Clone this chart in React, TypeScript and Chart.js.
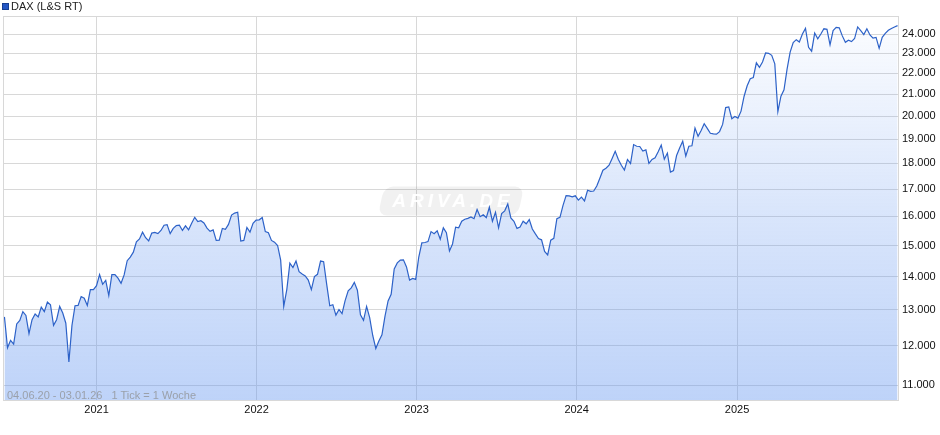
import React, { useEffect, useRef } from 'react';
import { Chart, registerables } from 'chart.js';

Chart.register(...registerables);

// ---- data -----------------------------------------------------------
const seriesName = 'DAX (L&S RT)';
const rangeText = '04.06.20 - 03.01.26   1 Tick = 1 Woche';
const startDate = '2020-06-04';
const endDate = '2026-01-03';
const firstPointDate = '2020-06-05';
const yearLabels = ['2021', '2022', '2023', '2024', '2025'];
const yTickValues = [11000, 12000, 13000, 14000, 15000, 16000, 17000, 18000, 19000, 20000, 21000, 22000, 23000, 24000];
const yMin = 10640;
const yMax = 24980;

// weekly values
const w2020 = [12800, 11950, 12150, 12050, 12600, 12700, 12950, 12840, 12330, 12720, 12880, 12800, 13080, 12950, 13230, 13150, 12560, 12720, 13100, 12910, 12620, 11580, 12560, 13120, 13130, 13390, 13340, 13130, 13600, 13600, 13720];
const w2021 = [14060, 13760, 13880, 13420, 14060, 14060, 13950, 13790, 14050, 14500, 14620, 14780, 15120, 15220, 15450, 15260, 15150, 15420, 15440, 15400, 15510, 15690, 15710, 15400, 15580, 15680, 15690, 15510, 15670, 15530, 15760, 15970, 15820, 15850, 15770, 15590, 15480, 15530, 15170, 15180, 15580, 15550, 15720, 16050, 16120, 16150, 15150, 15170, 15610, 15450, 15760, 15870];
const w2022 = [15880, 15960, 15470, 15430, 15170, 15110, 15000, 14520, 13100, 13600, 14420, 14280, 14490, 14150, 14080, 14020, 13890, 13600, 14000, 14070, 14490, 14470, 13760, 13120, 13150, 12850, 13010, 12890, 13270, 13560, 13650, 13820, 13580, 12860, 12700, 13100, 12780, 12280, 11930, 12130, 12300, 12820, 13260, 13460, 14240, 14430, 14520, 14530, 14300, 13890, 13940, 13910];
const w2023 = [14620, 15090, 15100, 15130, 15470, 15400, 15500, 15210, 15600, 15430, 14820, 15050, 15620, 15600, 15830, 15900, 15930, 15980, 15920, 16250, 15990, 16060, 15960, 16330, 15830, 16150, 15600, 16100, 16200, 16450, 15950, 15830, 15580, 15630, 15830, 15740, 15890, 15560, 15390, 15230, 15190, 14800, 14690, 15180, 15240, 15920, 15970, 16400, 16760, 16750, 16710, 16750];
const w2024 = [16590, 16700, 16560, 16960, 16920, 16930, 17120, 17420, 17730, 17810, 17930, 18200, 18490, 18170, 17930, 17740, 18160, 18000, 18770, 18700, 18690, 18500, 18550, 18000, 18160, 18230, 18470, 18750, 18170, 18420, 17660, 17720, 18320, 18630, 18910, 18300, 18700, 18720, 19470, 19120, 19370, 19660, 19460, 19250, 19220, 19210, 19320, 19630, 20380, 20410, 19880, 19980];
const w2025 = [19910, 20220, 20900, 21390, 21730, 21790, 22510, 22290, 22550, 23010, 22990, 22890, 22460, 20200, 20900, 21200, 22200, 23050, 23550, 23700, 23580, 24000, 24300, 23300, 23100, 24050, 23750, 24000, 24280, 24250, 23430, 24180, 24360, 24330, 23900, 23560, 23670, 23600, 23760, 24380, 24180, 23970, 24280, 23950, 23780, 23820, 23250, 23820, 24030, 24200, 24300, 24380];
const w2026 = [24450];

// ---------------------------------------------------------------------
const DAY = 86400000;
const dayOf = (iso: string) => (Date.parse(iso) - Date.parse(startDate)) / DAY;

const FONT = '"Liberation Sans", Arial, sans-serif';

export default function App() {
  const ref = useRef<HTMLCanvasElement | null>(null);

  useEffect(() => {
    document.body.style.margin = '0';
    const canvas = ref.current;
    if (!canvas) return;

    const weekly = [...w2020, ...w2021, ...w2022, ...w2023, ...w2024, ...w2025, ...w2026];
    const first = dayOf(firstPointDate);
    const points = weekly.map((v, i) => ({ x: first + 7 * i, y: v }));
    const yearDays = yearLabels.map((y) => dayOf(`${y}-01-01`));

    const framePlugin = {
      id: 'frameAndMark',
      beforeDatasetsDraw(chart: any) {
        const { ctx, chartArea } = chart;
        const { left, right, top, bottom } = chartArea;
        ctx.save();
        // watermark
        const cx = (left + right) / 2;
        const cy = top + (bottom - top) * 0.482;
        const w = 140;
        const h = 29;
        ctx.translate(cx, cy);
        ctx.transform(1, 0, -0.22, 1, 0, 0);
        ctx.fillStyle = 'rgba(0,0,0,0.055)';
        ctx.beginPath();
        (ctx as any).roundRect(-w / 2, -h / 2, w, h, 9);
        ctx.fill();
        ctx.setTransform(1, 0, 0, 1, 0, 0);
        ctx.font = `italic bold 19px ${FONT}`;
        (ctx as any).letterSpacing = '4px';
        ctx.fillStyle = 'rgba(255,255,255,0.95)';
        ctx.textAlign = 'center';
        ctx.textBaseline = 'middle';
        ctx.fillText('ARIVA.DE', cx + 2, cy + 1);
        ctx.restore();

        ctx.save();
        ctx.strokeStyle = '#d8d8d8';
        ctx.lineWidth = 1;
        ctx.strokeRect(Math.round(left) - 0.5, Math.round(top) + 0.5, Math.round(right - left) + 1, Math.round(bottom - top));
        ctx.restore();
      },
    };

    const chart = new Chart(canvas, {
      type: 'line',
      data: {
        datasets: [
          {
            label: seriesName,
            data: points,
            borderColor: '#2d62c8',
            borderWidth: 1.2,
            pointRadius: 0,
            tension: 0,
            fill: 'start',
            backgroundColor: (c: any) => {
              const area = c.chart.chartArea;
              if (!area) return 'rgba(100,150,240,0.2)';
              const g = c.chart.ctx.createLinearGradient(0, area.top, 0, area.bottom);
              g.addColorStop(0, 'rgba(100,150,240,0.02)');
              g.addColorStop(0.5, 'rgba(100,150,240,0.24)');
              g.addColorStop(1, 'rgba(100,150,240,0.42)');
              return g;
            },
          },
        ],
      },
      options: {
        responsive: false,
        animation: false,
        devicePixelRatio: 1,
        layout: { padding: { left: 4, right: 0, top: 16, bottom: 0 } },
        plugins: {
          legend: { display: false },
          tooltip: { enabled: false },
        },
        scales: {
          x: {
            type: 'linear',
            min: 0,
            max: dayOf(endDate),
            afterBuildTicks: (scale: any) => {
              scale.ticks = yearDays.map((d) => ({ value: d }));
            },
            afterFit: (scale: any) => {
              scale.height = 35;
            },
            grid: { color: '#d8d8d8', drawTicks: false, lineWidth: 1 },
            border: { display: false },
            ticks: {
              autoSkip: false,
              maxRotation: 0,
              padding: 3,
              color: '#111',
              font: { family: FONT, size: 11 },
              callback: (_v: any, i: number) => yearLabels[i],
            },
          },
          y: {
            type: 'logarithmic',
            position: 'right',
            min: yMin,
            max: yMax,
            afterBuildTicks: (scale: any) => {
              scale.ticks = yTickValues.map((v) => ({ value: v }));
            },
            afterFit: (scale: any) => {
              scale.width = 42;
            },
            grid: { color: '#d8d8d8', drawTicks: false, lineWidth: 1 },
            border: { display: false },
            ticks: {
              autoSkip: false,
              padding: 4,
              color: '#111',
              font: { family: FONT, size: 11 },
              callback: (v: any) => Number(v).toLocaleString('de-DE'),
            },
          },
        },
      },
      plugins: [framePlugin],
    } as any);

    return () => chart.destroy();
  }, []);

  return (
    <div style={{ position: 'relative', width: 940, height: 435, background: '#fff', fontFamily: FONT, overflow: 'hidden' }}>
      <canvas ref={ref} width={940} height={435} style={{ position: 'absolute', left: 0, top: 0, width: 940, height: 435 }} />
      <div style={{ position: 'absolute', left: 2, top: 3, width: 5, height: 5, background: '#2457c5', border: '1px solid #173f92' }} />
      <div style={{ position: 'absolute', left: 11, top: 0, fontSize: 11, lineHeight: '13px', color: '#222', whiteSpace: 'pre' }}>{seriesName}</div>
      <div style={{ position: 'absolute', left: 7, top: 389, fontSize: 11, lineHeight: '13px', color: '#9aa0aa', whiteSpace: 'pre' }}>{rangeText}</div>
    </div>
  );
}
